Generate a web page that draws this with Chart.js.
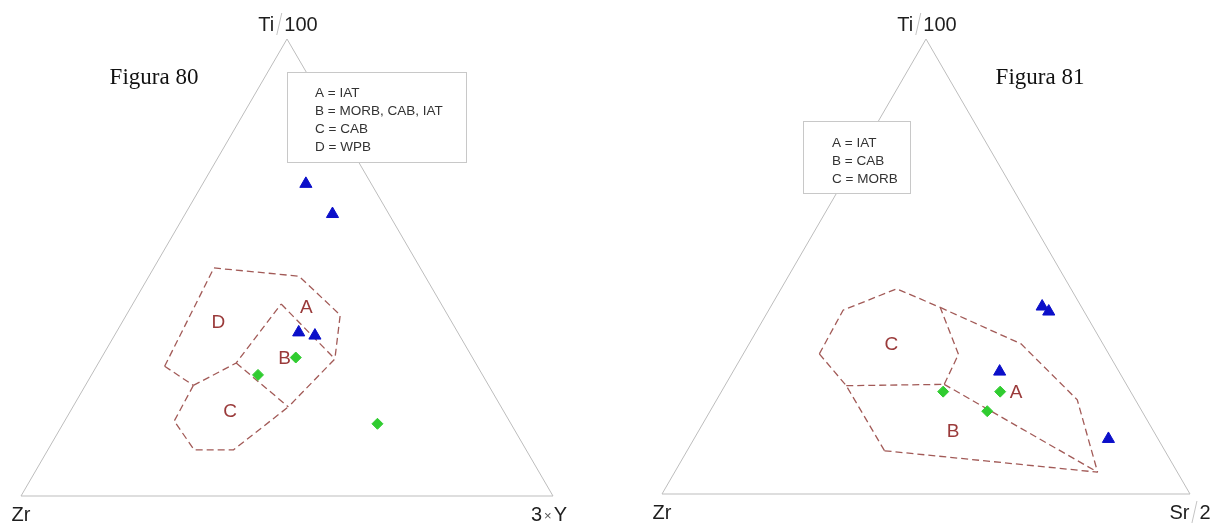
<!DOCTYPE html>
<html>
<head>
<meta charset="utf-8">
<script src="https://cdn.jsdelivr.net/npm/chart.js@4.4.1/dist/chart.umd.min.js"></script>
<style>
  html, body { margin: 0; padding: 0; background: #fff; }
  #wrap { position: relative; width: 1224px; height: 528px; }
  canvas { position: absolute; top: 0; }
  #fig80 { left: 0; }
  #fig81 { left: 612px; }
</style>
</head>
<body>
<div id="wrap">
  <canvas id="fig80" width="612" height="528"></canvas>
  <canvas id="fig81" width="612" height="528"></canvas>
</div>
<script>
// every composition is [Ti/100, Zr, third apex] in percent

// Figura 80 : Ti/100 - Zr - 3xY
const fig80Triangles = [[68.3, 12.3, 19.4], [61.7, 10.6, 27.7], [35.8, 29.9, 34.3], [35.1, 27.2, 37.7]];
const fig80Diamonds = [[30.3, 33.2, 36.5], [26.5, 42.2, 31.3], [15.8, 25.1, 59.1]];
const fig80Fields = [
  [[28.4, 58.8, 12.8], [49.9, 38.8, 11.3], [48.1, 23.7, 28.2], [39.6, 20.2, 40.2], [30.0, 26.0, 44.0], [19.5, 40.0, 40.5]],
  [[28.4, 58.8, 12.8], [24.2, 55.5, 20.3]],
  [[24.2, 55.5, 20.3], [29.1, 45.0, 25.9], [42.0, 30.1, 27.9]],
  [[42.0, 30.1, 27.9], [30.0, 26.0, 44.0]],
  [[29.1, 45.0, 25.9], [19.5, 40.0, 40.5]],
  [[24.2, 55.5, 20.3], [16.4, 63.0, 20.6], [10.1, 62.4, 27.5], [10.1, 55.0, 34.9], [19.5, 40.0, 40.5]]
];
const fig80FieldNames = ['A', 'D', 'B', 'C'];
const fig80FieldSpots = [[41.1, 25.8, 33.1], [37.8, 44.0, 18.2], [30.1, 35.4, 34.5], [18.4, 51.5, 30.1]];
const fig80Apexes = ['Ti/100', 'Zr', '3×Y'];
const fig80Legend = ['A = IAT', 'B = MORB, CAB, IAT', 'C = CAB', 'D = WPB'];

// Figura 81 : Ti/100 - Zr - Sr/2
const fig81Triangles = [[41.2, 7.4, 51.4], [40.1, 6.7, 53.2], [26.9, 22.6, 50.5], [12.1, 9.4, 78.5]];
const fig81Diamonds = [[22.5, 35.5, 42.0], [22.5, 24.7, 52.8], [18.2, 29.3, 52.5]];
const fig81Fields = [
  [[30.8, 54.8, 14.4], [40.4, 45.5, 14.1], [45.1, 33.0, 21.9], [41.0, 26.8, 32.2], [30.7, 28.5, 40.8], [24.1, 34.5, 41.4]],
  [[23.8, 53.2, 23.0], [24.1, 34.5, 41.4]],
  [[30.8, 54.8, 14.4], [23.8, 53.2, 23.0], [9.5, 53.1, 37.4]],
  [[41.0, 26.8, 32.2], [33.0, 15.5, 51.5], [20.7, 11.0, 68.3], [4.8, 15.1, 80.1]],
  [[9.5, 53.1, 37.4], [4.8, 15.1, 80.1]],
  [[24.1, 34.5, 41.4], [4.8, 15.1, 80.1]]
];
const fig81FieldNames = ['C', 'A', 'B'];
const fig81FieldSpots = [[32.7, 40.2, 27.1], [22.3, 21.8, 55.9], [13.7, 38.0, 48.3]];
const fig81Apexes = ['Ti/100', 'Zr', 'Sr/2'];
const fig81Legend = ['A = IAT', 'B = CAB', 'C = MORB'];

const H = Math.sqrt(3) / 2;
// ternary -> cartesian (base 0..100, apex at 50, 86.6)
function tern(c) {
  return { x: c[2] + c[0] / 2, y: c[0] * H };
}

const SANS = "'Liberation Sans', Arial, sans-serif";

function splitLabel(ctx, text, cx, cy) {
  // "Ti/100" -> "Ti", thin grey slash, "100"
  ctx.font = '20px ' + SANS;
  ctx.fillStyle = '#1e1e1e';
  ctx.textBaseline = 'middle';
  ctx.textAlign = 'left';
  if (text.indexOf('×') >= 0) {
    const parts = text.split('×');
    const wa = ctx.measureText(parts[0]).width;
    const wb = ctx.measureText(parts[1]).width;
    ctx.font = '13px ' + SANS;
    const wx = ctx.measureText('×').width;
    const start = cx - (wa + wx + wb + 4) / 2;
    ctx.font = '20px ' + SANS;
    ctx.fillText(parts[0], start, cy);
    ctx.font = '13px ' + SANS;
    ctx.fillStyle = '#555';
    ctx.fillText('×', start + wa + 2, cy + 1);
    ctx.font = '20px ' + SANS;
    ctx.fillStyle = '#1e1e1e';
    ctx.fillText(parts[1], start + wa + wx + 4, cy);
    return;
  }
  const parts = text.split('/');
  if (parts.length < 2) {
    ctx.textAlign = 'center';
    ctx.fillText(text, cx, cy);
    return;
  }
  const gap = 10;
  const wa = ctx.measureText(parts[0]).width;
  const wb = ctx.measureText(parts[1]).width;
  const start = cx - (wa + gap + wb) / 2;
  ctx.fillText(parts[0], start, cy);
  ctx.fillText(parts[1], start + wa + gap, cy);
  ctx.strokeStyle = '#c4c4c4';
  ctx.lineWidth = 1;
  ctx.beginPath();
  ctx.moveTo(start + wa + gap / 2 + 2.5, cy - 12);
  ctx.lineTo(start + wa + gap / 2 - 2.5, cy + 10);
  ctx.stroke();
}

const ternaryText = {
  id: 'ternaryText',
  beforeDatasetsDraw(chart, args, opts) {
    const ctx = chart.ctx;
    const xs = chart.scales.x, ys = chart.scales.y;
    ctx.save();
    ctx.font = '19px ' + SANS;
    ctx.fillStyle = '#9a3a3a';
    ctx.textAlign = 'center';
    ctx.textBaseline = 'middle';
    opts.names.forEach((n, i) => {
      const p = tern(opts.spots[i]);
      ctx.fillText(n, xs.getPixelForValue(p.x), ys.getPixelForValue(p.y));
    });
    ctx.restore();
  },
  afterDatasetsDraw(chart, args, opts) {
    const ctx = chart.ctx;
    const xs = chart.scales.x, ys = chart.scales.y;
    ctx.save();
    // legend box
    const b = opts.box;
    ctx.fillStyle = '#fff';
    ctx.fillRect(b.x, b.y, b.w, b.h);
    ctx.strokeStyle = '#c8c8c8';
    ctx.lineWidth = 1;
    ctx.strokeRect(b.x + 0.5, b.y + 0.5, b.w, b.h);
    ctx.fillStyle = '#333';
    ctx.font = '13.5px ' + SANS;
    ctx.textAlign = 'left';
    ctx.textBaseline = 'middle';
    opts.legend.forEach((t, i) => ctx.fillText(t, b.tx, b.ty + i * 18));

    // apex labels
    const apexX = xs.getPixelForValue(50), apexY = ys.getPixelForValue(100 * H);
    const x0 = xs.getPixelForValue(0), x1 = xs.getPixelForValue(100), y0 = ys.getPixelForValue(0);
    splitLabel(ctx, opts.apexes[0], apexX + 1, apexY - 14);
    splitLabel(ctx, opts.apexes[1], x0, y0 + 19);
    splitLabel(ctx, opts.apexes[2], x1 + opts.rightShift, y0 + 19);

    // figure caption
    ctx.fillStyle = '#111';
    ctx.font = "23px 'Liberation Serif', 'Times New Roman', serif";
    ctx.textAlign = 'center';
    ctx.textBaseline = 'middle';
    ctx.fillText(opts.caption.text, opts.caption.x, opts.caption.y);
    ctx.restore();
  }
};

function makeTernary(id, d) {
  const outline = [[100, 0, 0], [0, 100, 0], [0, 0, 100], [100, 0, 0]].map(tern);
  const datasets = [];
  datasets.push({
    data: d.triangles.map(tern),
    pointStyle: 'triangle',
    pointRadius: 7,
    backgroundColor: '#0b0fc9',
    borderColor: '#0b0fc9',
    borderWidth: 1,
    order: 0
  });
  datasets.push({
    data: d.diamonds.map(tern),
    pointStyle: 'rectRot',
    pointRadius: 5.5,
    backgroundColor: '#30cc30',
    borderColor: '#30cc30',
    borderWidth: 1,
    order: 0
  });
  d.fields.forEach(line => {
    datasets.push({
      data: line.map(tern),
      showLine: true,
      pointRadius: 0,
      borderColor: '#a25a57',
      borderWidth: 1.3,
      borderDash: [7, 4],
      order: 1
    });
  });
  datasets.push({
    data: outline,
    showLine: true,
    pointRadius: 0,
    borderColor: '#bdbdbd',
    borderWidth: 1,
    order: 2
  });
  datasets.forEach(ds => { ds.clip = false; });

  return new Chart(document.getElementById(id), {
    type: 'scatter',
    data: { datasets: datasets },
    options: {
      responsive: false,
      animation: false,
      events: [],
      layout: { padding: d.padding },
      scales: {
        x: { type: 'linear', min: 0, max: 100, display: false },
        y: { type: 'linear', min: 0, max: 100 * H, display: false }
      },
      plugins: {
        legend: { display: false },
        tooltip: { enabled: false },
        ternaryText: {
          names: d.names,
          spots: d.spots,
          apexes: d.apexes,
          legend: d.legend,
          box: d.box,
          caption: d.caption,
          rightShift: d.rightShift
        }
      }
    },
    plugins: [ternaryText]
  });
}

makeTernary('fig80', {
  triangles: fig80Triangles,
  diamonds: fig80Diamonds,
  fields: fig80Fields,
  names: fig80FieldNames,
  spots: fig80FieldSpots,
  apexes: fig80Apexes,
  legend: fig80Legend,
  padding: { left: 21, right: 59, top: 39, bottom: 32 },
  box: { x: 287, y: 72, w: 179, h: 90, tx: 315, ty: 93 },
  caption: { text: 'Figura 80', x: 154, y: 78 },
  rightShift: -4
});

makeTernary('fig81', {
  triangles: fig81Triangles,
  diamonds: fig81Diamonds,
  fields: fig81Fields,
  names: fig81FieldNames,
  spots: fig81FieldSpots,
  apexes: fig81Apexes,
  legend: fig81Legend,
  padding: { left: 50, right: 34, top: 39, bottom: 34 },
  box: { x: 191, y: 121, w: 107, h: 72, tx: 220, ty: 143 },
  caption: { text: 'Figura 81', x: 428, y: 78 },
  rightShift: 0
});
</script>
</body>
</html>
